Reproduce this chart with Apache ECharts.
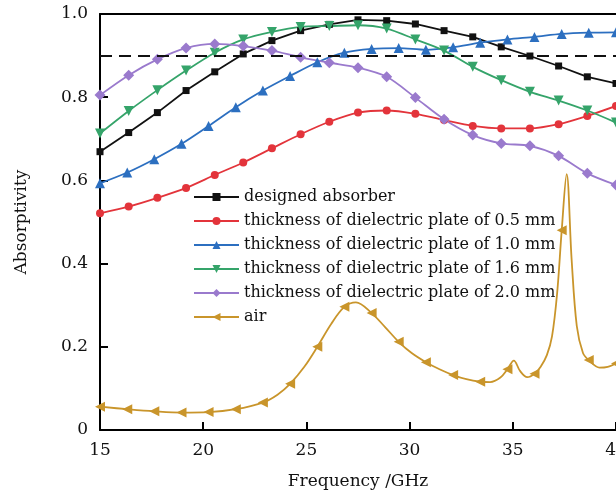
<!DOCTYPE html>
<html>
<head>
<meta charset="utf-8">
<script src="https://cdn.jsdelivr.net/npm/echarts@6/dist/echarts.min.js"></script>
<style>
  html, body { margin: 0; padding: 0; background: #fff; }
  #chart { width: 616px; height: 494px; }
</style>
</head>
<body>
<div id="chart"></div>
<script>
// sample frequencies (GHz) for the four dielectric/designed curves
const freqA = [15, 16.39, 17.78, 19.17, 20.56, 21.94, 23.33, 24.72, 26.11, 27.5, 28.89, 30.28, 31.67, 33.06, 34.44, 35.83, 37.22, 38.61, 40];
// the 1.0 mm curve and the air markers sit on a slightly different grid
const freqB = [15, 16.32, 17.63, 18.95, 20.26, 21.58, 22.89, 24.21, 25.53, 26.84, 28.16, 29.47, 30.79, 32.11, 33.42, 34.74, 36.05, 37.37, 38.68, 40];

const designed = [0.669, 0.715, 0.763, 0.816, 0.861, 0.904, 0.936, 0.960, 0.975, 0.986, 0.984, 0.976, 0.960, 0.945, 0.921, 0.899, 0.875, 0.849, 0.833];
const plate05 = [0.521, 0.537, 0.558, 0.582, 0.613, 0.643, 0.677, 0.711, 0.741, 0.763, 0.768, 0.760, 0.745, 0.731, 0.725, 0.725, 0.735, 0.755, 0.779];
const plate10 = [0.593, 0.619, 0.651, 0.688, 0.731, 0.776, 0.816, 0.851, 0.884, 0.907, 0.916, 0.918, 0.914, 0.920, 0.931, 0.939, 0.945, 0.952, 0.955, 0.956];
const plate16 = [0.713, 0.767, 0.817, 0.864, 0.907, 0.939, 0.957, 0.969, 0.971, 0.973, 0.965, 0.939, 0.912, 0.873, 0.841, 0.813, 0.792, 0.768, 0.739];
const plate20 = [0.805, 0.853, 0.891, 0.918, 0.928, 0.923, 0.912, 0.896, 0.883, 0.871, 0.849, 0.799, 0.747, 0.709, 0.689, 0.683, 0.659, 0.617, 0.589];

// air: dense trace, markers only on freqB points
const airFreq = [15, 16.32, 17.63, 18.95, 20.26, 21.58, 22.89, 23.6, 24.21, 24.9, 25.53, 26.2, 26.84, 27.4, 28.16, 28.8, 29.47, 30.1, 30.79, 31.45, 32.11, 32.75, 33.42, 33.9, 34.4, 34.74, 35.05, 35.35, 35.7, 36.05, 36.35, 36.65, 36.9, 37.15, 37.37, 37.61, 37.85, 38.1, 38.4, 38.68, 39.2, 39.6, 40];
const airAbs = [0.056, 0.050, 0.045, 0.042, 0.043, 0.050, 0.066, 0.085, 0.111, 0.152, 0.200, 0.255, 0.296, 0.307, 0.281, 0.248, 0.212, 0.185, 0.163, 0.146, 0.132, 0.122, 0.116, 0.115, 0.126, 0.146, 0.167, 0.142, 0.127, 0.135, 0.152, 0.180, 0.225, 0.330, 0.480, 0.615, 0.410, 0.250, 0.185, 0.168, 0.150, 0.152, 0.160];

const yTicks = [0, 0.2, 0.4, 0.6, 0.8, 1.0];
const xTicks = [15, 20, 25, 30, 35, 40];

const FONT = 'DejaVu Serif';
const pairs = (xs, ys) => ys.map((y, i) => [xs[i], y]);

const airData = airAbs.map((y, i) => {
  const f = airFreq[i];
  return freqB.includes(f) ? [f, y] : { value: [f, y], symbol: 'none' };
});

const lineSeries = (name, color, data, symbol, extra) => Object.assign({
  name,
  type: 'line',
  data,
  symbol,
  symbolSize: 8,
  showAllSymbol: true,
  smooth: 0.3,
  lineStyle: { color, width: 1.8 },
  itemStyle: { color },
  z: 3,
}, extra || {});

const chart = echarts.init(document.getElementById('chart'));
chart.setOption({
  animation: false,
  textStyle: { fontFamily: FONT },
  grid: { left: 100, right: 0, top: 14, bottom: 64, outerBoundsMode: 'none', containLabel: false },
  legend: {
    orient: 'vertical',
    left: 193,
    top: 189,
    padding: 0,
    itemWidth: 45,
    itemHeight: 10,
    itemGap: 8,
    textStyle: { fontFamily: FONT, fontSize: 16, color: '#111', padding: [0, 0, 0, 0] },
    data: ['designed absorber',
      'thickness of dielectric plate of 0.5 mm',
      'thickness of dielectric plate of 1.0 mm',
      'thickness of dielectric plate of 1.6 mm',
      'thickness of dielectric plate of 2.0 mm',
      'air'],
  },
  xAxis: [{
    type: 'value',
    min: 15,
    max: 40,
    interval: 5,
    name: 'Frequency /GHz',
    nameLocation: 'middle',
    nameGap: 43,
    nameTextStyle: { fontFamily: FONT, fontSize: 17, color: '#111' },
    axisLine: { lineStyle: { color: '#000', width: 2 } },
    axisTick: { inside: true, length: 8, lineStyle: { width: 2, color: '#000' } },
    axisLabel: { fontSize: 17, color: '#111', margin: 12,
      formatter: (v) => (xTicks.includes(v) ? String(v) : '') },
    splitLine: { show: false },
  }, {
    // top frame line
    type: 'value', position: 'top', min: 15, max: 40,
    axisLine: { show: true, lineStyle: { color: '#000', width: 2 } },
    axisTick: { show: false }, axisLabel: { show: false }, splitLine: { show: false },
  }],
  yAxis: {
    type: 'value',
    min: 0,
    max: 1,
    interval: 0.2,
    name: 'Absorptivity',
    nameLocation: 'middle',
    nameGap: 70,
    nameTextStyle: { fontFamily: FONT, fontSize: 17, color: '#111' },
    axisLine: { show: true, lineStyle: { color: '#000', width: 2 } },
    axisTick: { inside: true, length: 8, lineStyle: { width: 2, color: '#000' } },
    axisLabel: { fontSize: 17, color: '#111', margin: 12,
      formatter: (v) => {
        const t = yTicks.find((k) => Math.abs(k - v) < 1e-6);
        if (t === undefined) return '';
        return t === 0 ? '0' : t.toFixed(1);
      } },
    splitLine: { show: false },
  },
  series: [
    lineSeries('designed absorber', '#111', pairs(freqA, designed), 'rect', {
      smooth: false,
      symbolSize: 7,
      markLine: {
        silent: true,
        symbol: 'none',
        label: { show: false },
        lineStyle: { color: '#111', type: [12, 7], width: 2 },
        data: [{ yAxis: 0.9 }],
      },
    }),
    lineSeries('thickness of dielectric plate of 0.5 mm', '#e3343b', pairs(freqA, plate05), 'circle'),
    lineSeries('thickness of dielectric plate of 1.0 mm', '#2c6fc0', pairs(freqB, plate10), 'triangle', { symbolSize: 10 }),
    lineSeries('thickness of dielectric plate of 1.6 mm', '#35a46a', pairs(freqA, plate16), 'triangle', { symbolSize: 10, symbolRotate: 180 }),
    lineSeries('thickness of dielectric plate of 2.0 mm', '#9a7acd', pairs(freqA, plate20), 'diamond', { symbolSize: 11 }),
    lineSeries('air', '#c9952b', airData, 'triangle', { symbolSize: 10, symbolRotate: 90, smooth: 0.35 }),
  ],
});
</script>
</body>
</html>
